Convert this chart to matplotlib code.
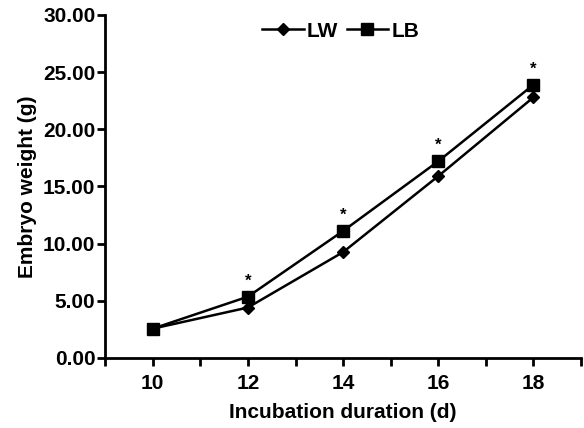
import matplotlib
matplotlib.use("Agg")
import matplotlib.pyplot as plt
from matplotlib.ticker import MultipleLocator

plt.rcParams["font.family"] = ["Liberation Sans", "DejaVu Sans"]
plt.rcParams["font.weight"] = "bold"

days = [10, 12, 14, 16, 18]
lw = [2.55, 4.4, 9.25, 15.9, 22.8]
lb = [2.55, 5.35, 11.1, 17.2, 23.9]
sig_days = [12, 14, 16, 18]

fig = plt.figure(figsize=(5.84, 4.28), dpi=100)
ax = fig.add_axes([0.18, 0.164, 0.815, 0.801])

ax.plot(days, lw, color="black", lw=1.8, marker="D", ms=6.5, label="LW")
ax.plot(days, lb, color="black", lw=1.8, marker="s", ms=9, label="LB")

for d in sig_days:
    y = lb[days.index(d)]
    ax.text(d, y + 0.7, "*", ha="center", va="bottom", fontsize=12)

ax.set_xlim(9, 19)
ax.set_ylim(0, 30)
ax.set_xticks(days)
ax.xaxis.set_minor_locator(MultipleLocator(1))
ax.set_yticks(range(0, 31, 5))
ax.set_yticklabels([f"{v:.2f}" for v in range(0, 31, 5)])

for s in ("top", "right"):
    ax.spines[s].set_visible(False)
for s in ("left", "bottom"):
    ax.spines[s].set_linewidth(2)
ax.tick_params(axis="both", which="both", width=2, length=6, labelsize=15)
ax.tick_params(axis="x", pad=6)
ax.tick_params(axis="y", pad=1)

ax.set_xlabel("Incubation duration (d)", fontsize=15, fontweight="bold", labelpad=7)
ax.set_ylabel("Embryo weight (g)", fontsize=15, fontweight="bold", labelpad=4)

ax.legend(loc="upper center", bbox_to_anchor=(0.495, 1.035), ncol=2, frameon=False,
          fontsize=15, handlelength=2.0, handletextpad=0.15, columnspacing=0.4)

fig.savefig("out.png", dpi=100)
